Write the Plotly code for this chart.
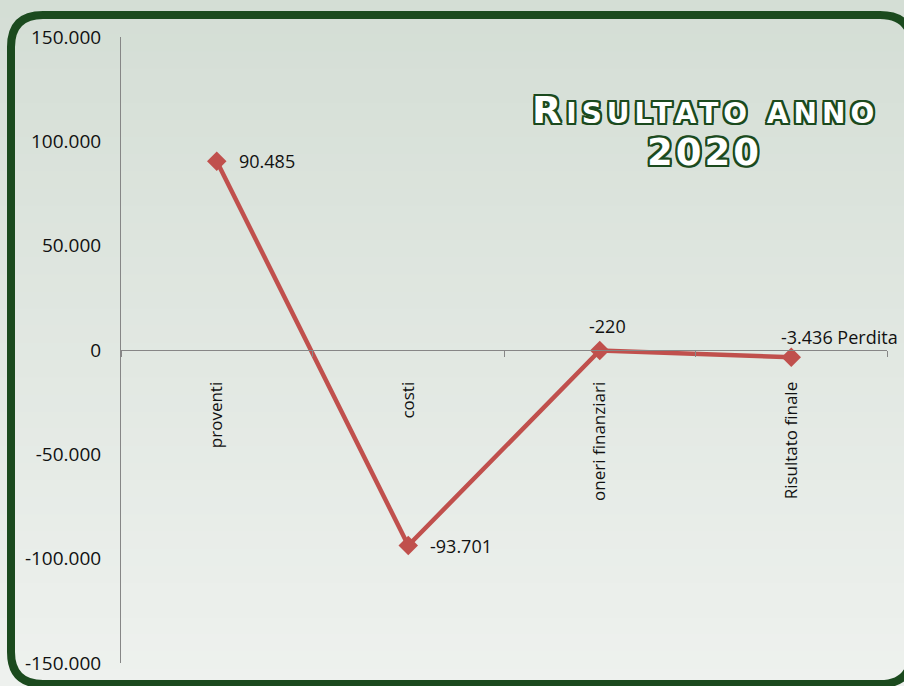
import plotly.graph_objects as go

# data
categorie = ["proventi", "costi", "oneri finanziari", "Risultato finale"]
valori = [90485, -93701, -220, -3436]
etichette = ["90.485", "-93.701", "-220", "-3.436 Perdita"]
y_ticks = [150000, 100000, 50000, 0, -50000, -100000, -150000]
y_ticktext = ["150.000", "100.000", "50.000", "0", "-50.000", "-100.000", "-150.000"]

W, H = 904, 686
L, R, T, B = 121, 17, 37, 23
PW, PH = W - L - R, H - T - B

ROSSO = "#c0504d"
VERDE = "#1b4a1e"


def px_x(p):
    return (p - L) / PW


def px_y(p):
    return (H - B - p) / PH


fig = go.Figure()

fig.add_trace(go.Scatter(
    x=categorie, y=valori,
    mode="lines+markers",
    line=dict(color=ROSSO, width=4.5),
    marker=dict(symbol="diamond", size=15, color=ROSSO),
    hoverinfo="skip",
    showlegend=False,
))

# data labels
pos = [("left", "middle", 20, 0), ("left", "middle", 20, 0),
       ("center", "bottom", 8, 10), ("left", "bottom", -12, 6)]
for cat, val, txt, (xa, ya, xs, ys) in zip(categorie, valori, etichette, pos):
    fig.add_annotation(x=cat, y=val, text=txt, showarrow=False,
                       xanchor=xa, yanchor=ya, xshift=xs, yshift=ys,
                       font=dict(family="Open Sans", size=18, color="#111111"))

# background gradient
shapes = []
n = 40
top_c = (212, 222, 213)
bot_c = (238, 241, 238)
for i in range(n):
    f = i / (n - 1)
    c = tuple(int(round(a + (b - a) * f)) for a, b in zip(top_c, bot_c))
    y0 = i * H / n
    y1 = (i + 1) * H / n + 1
    shapes.append(dict(type="rect", xref="paper", yref="paper", layer="below",
                       x0=px_x(0), x1=px_x(W), y0=px_y(y1), y1=px_y(y0),
                       line=dict(width=0), fillcolor="rgb(%d,%d,%d)" % c))

# rounded border
x0, x1, y0, y1, r = 11, 912, 15, 684, 32
path = (
    f"M {px_x(x0 + r)},{px_y(y0)} L {px_x(x1 - r)},{px_y(y0)} "
    f"Q {px_x(x1)},{px_y(y0)} {px_x(x1)},{px_y(y0 + r)} "
    f"L {px_x(x1)},{px_y(y1 - r)} Q {px_x(x1)},{px_y(y1)} {px_x(x1 - r)},{px_y(y1)} "
    f"L {px_x(x0 + r)},{px_y(y1)} Q {px_x(x0)},{px_y(y1)} {px_x(x0)},{px_y(y1 - r)} "
    f"L {px_x(x0)},{px_y(y0 + r)} Q {px_x(x0)},{px_y(y0)} {px_x(x0 + r)},{px_y(y0)} Z"
)
shapes.append(dict(type="path", xref="paper", yref="paper", path=path,
                   line=dict(color=VERDE, width=8), layer="above"))

# title with outline (small caps built by hand)
ombra = ", ".join(f"{dx}px {dy}px 0 {VERDE}" for dx, dy in
                  [(-2, 0), (2, 0), (0, -2), (0, 2), (-2, -2), (2, 2), (-2, 2), (2, -2),
                   (-1, -2), (1, 2), (-2, 1), (2, -1)])
font_titolo = dict(family="DejaVu Sans", size=38, color="white", weight="bold", shadow=ombra)
riga1 = ("<span style='letter-spacing:5px'>R"
         "<span style='font-size:28px'>ISULTATO ANNO</span></span>")
riga2 = "<span style='letter-spacing:3px'>2020</span>"
fig.add_annotation(xref="paper", yref="paper", x=px_x(705), y=px_y(110),
                   xanchor="center", yanchor="middle", showarrow=False,
                   text=riga1, font=font_titolo)
fig.add_annotation(xref="paper", yref="paper", x=px_x(704), y=px_y(153),
                   xanchor="center", yanchor="middle", showarrow=False,
                   text=riga2, font=dict(font_titolo, size=37))

fig.update_layout(
    width=W, height=H,
    margin=dict(l=L, r=R, t=T, b=B, autoexpand=False),
    paper_bgcolor="rgb(225,231,225)",
    plot_bgcolor="rgba(0,0,0,0)",
    separators=",.",
    shapes=shapes,
    xaxis=dict(
        range=[-0.5, 3.5], anchor="free", position=0.5,
        showline=True, linecolor="#868686", linewidth=1,
        ticks="outside", tickson="boundaries", ticklen=6, tickcolor="#868686",
        tickangle=-90, showgrid=False, zeroline=False,
        tickfont=dict(family="Open Sans", size=17, color="#111111"),
        ticklabelstandoff=24, automargin=False,
    ),
    yaxis=dict(
        range=[-150000, 150000],
        tickvals=y_ticks, ticktext=y_ticktext,
        showline=True, linecolor="#868686", linewidth=1,
        ticks="", showgrid=False, zeroline=False,
        tickfont=dict(family="Open Sans", size=19, color="#111111"),
        ticklabelstandoff=15, automargin=False,
    ),
)

fig.write_html("out.html", config={"displayModeBar": False},
               post_script="document.body.style.margin='0px';")
